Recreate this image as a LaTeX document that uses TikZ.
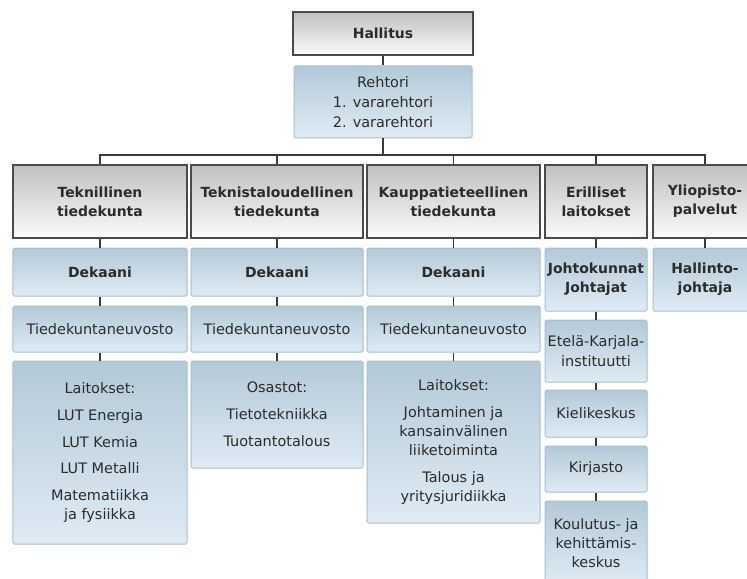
\documentclass[tikz,border=0pt]{standalone}
\usepackage{fontspec}
\setmainfont{DejaVu Sans}
\usetikzlibrary{shadows}

\definecolor{ink}{HTML}{2B2B2B}
\definecolor{rule}{HTML}{3A3A3A}
\definecolor{headtop}{HTML}{C0C0C0}
\definecolor{headbot}{HTML}{FBFBFB}
\definecolor{headline}{HTML}{4A4A4A}
\definecolor{bluetop}{HTML}{B3C9D7}
\definecolor{bluebot}{HTML}{DFEBF5}
\definecolor{blueline}{HTML}{A7BECE}

\tikzset{
  base/.style={inner sep=0pt, align=center, text=ink,
    font=\fontsize{14.5}{19}\selectfont},
  headbox/.style={base, draw=headline, line width=1.3bp,
    top color=headtop, bottom color=headbot,
    font=\fontsize{14}{19}\selectfont\bfseries,
    drop shadow={shadow xshift=0.8bp, shadow yshift=-1.2bp, opacity=0.45, fill=black}},
  unitbox/.style={base, draw=blueline, line width=1bp, rounded corners=1.5bp,
    top color=bluetop, bottom color=bluebot},
  boldunit/.style={unitbox, font=\fontsize{14}{19}\selectfont\bfseries},
  link/.style={draw=rule, line width=1.1bp},
}

\begin{document}
\begin{tikzpicture}[x=1bp, y=-1bp]
\useasboundingbox (0,0) rectangle (747,579);
\begin{scope}
\clip (0,0) rectangle (747,579);

% top of the organisation
\node[headbox, minimum width=180bp, minimum height=43bp] (hal) at (383,33.5) {Hallitus};
\node[unitbox, minimum width=178bp, minimum height=72bp] (reh) at (383,102)
  {Rehtori\\[1bp]1. vararehtori\\[1bp]2. vararehtori};

% faculties and separate units
\node[headbox, minimum width=174bp, minimum height=73bp] (h1) at (100,201.5) {Teknillinen\\tiedekunta};
\node[headbox, minimum width=172bp, minimum height=73bp] (h2) at (277,201.5) {Teknistaloudellinen\\tiedekunta};
\node[headbox, minimum width=173bp, minimum height=73bp] (h3) at (453.5,201.5) {Kauppatieteellinen\\tiedekunta};
\node[headbox, minimum width=102bp, minimum height=73bp] (h4) at (596,201.5) {Erilliset\\laitokset};
\node[headbox, minimum width=104bp, minimum height=73bp] (h5) at (705,201.5) {Yliopisto-\\palvelut};

% deans
\node[boldunit, minimum width=174bp, minimum height=48bp] (d1) at (100,272) {Dekaani};
\node[boldunit, minimum width=172bp, minimum height=48bp] (d2) at (277,272) {Dekaani};
\node[boldunit, minimum width=173bp, minimum height=48bp] (d3) at (453.5,272) {Dekaani};
\node[boldunit, minimum width=102bp, minimum height=63bp] (d4) at (596,279.5) {Johtokunnat\\Johtajat};
\node[boldunit, minimum width=104bp, minimum height=63bp] (d5) at (705,279.5) {Hallinto-\\johtaja};

% faculty councils
\node[unitbox, minimum width=174bp, minimum height=46bp] (t1) at (100,329) {Tiedekuntaneuvosto};
\node[unitbox, minimum width=172bp, minimum height=46bp] (t2) at (277,329) {Tiedekuntaneuvosto};
\node[unitbox, minimum width=173bp, minimum height=46bp] (t3) at (453.5,329) {Tiedekuntaneuvosto};

% departments
\node[unitbox, minimum width=174bp, minimum height=183bp] (l1) at (100,452.5)
  {Laitokset:\\[8bp]LUT Energia\\[8bp]LUT Kemia\\[8bp]LUT Metalli\\[8bp]Matematiikka\\ja fysiikka};
\node[unitbox, minimum width=172bp, minimum height=107bp] (l2) at (277,414.5)
  {Osastot:\\[8bp]Tietotekniikka\\[8bp]Tuotantotalous};
\node[unitbox, minimum width=173bp, minimum height=162bp] (l3) at (453.5,442)
  {Laitokset:\\[8bp]Johtaminen ja\\kansainvälinen\\liiketoiminta\\[8bp]Talous ja\\yritysjuridiikka};

% separate units
\node[unitbox, minimum width=102bp, minimum height=62bp] (e1) at (596,351) {Etelä-Karjala-\\[1bp]instituutti};
\node[unitbox, minimum width=102bp, minimum height=47bp] (e2) at (596,413.5) {Kielikeskus};
\node[unitbox, minimum width=102bp, minimum height=46bp] (e3) at (596,469) {Kirjasto};
\node[unitbox, minimum width=102bp, minimum height=84bp] (e4) at (596,543) {Koulutus- ja\\kehittämis-\\keskus};

% connectors
\coordinate (bus) at (383,155);
\draw[link] (hal.south) -- (reh.north);
\draw[link] (reh.south) -- (bus);
\draw[link] (h1.north) |- (bus) -| (h5.north);
\foreach \n in {h2,h3,h4} \draw[link] (\n.north) -- (\n.north |- bus);
\foreach \a/\b in {h1/d1,d1/t1,t1/l1,h2/d2,d2/t2,t2/l2,h3/d3,d3/t3,t3/l3,
                   h4/d4,d4/e1,e1/e2,e2/e3,e3/e4,h5/d5}
  \draw[link] (\a.south) -- (\b.north);
\end{scope}
\end{tikzpicture}
\end{document}
